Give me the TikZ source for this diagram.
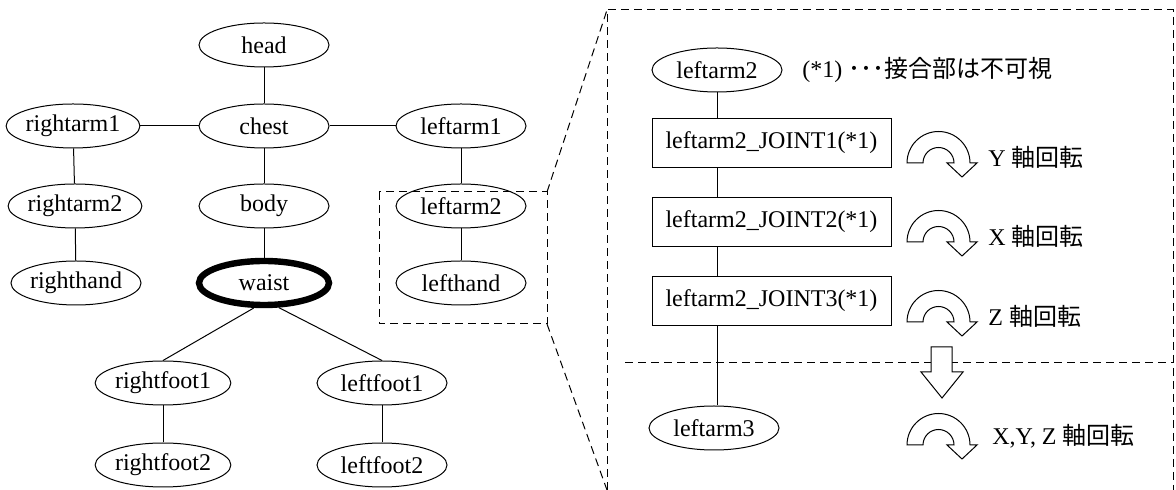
\documentclass[tikz,border=0pt]{standalone}
\usepackage{fontspec}
\setmainfont{Liberation Serif}
\newfontfamily\cjk{Noto Sans CJK JP}
\usetikzlibrary{shapes.geometric}
\tikzset{
  rotarrow/.pic={
    \draw[line width=0.5pt, fill=white, line join=miter]
      (-31.5,0) arc[start angle=180, end angle=0, radius=15.75pt]
      -- (38.5,0) -- (23.5,14) -- (8.5,0) -- (15.5,0)
      arc[start angle=0, end angle=180, radius=7.75pt] -- cycle;
  }
}
\begin{document}
\begin{tikzpicture}[x=0.5pt, y=-0.5pt,
  font=\fontsize{12}{14}\selectfont,
  ell/.style={draw, ellipse, minimum width=65pt, minimum height=22pt, inner sep=0pt, line width=0.5pt},
  jbox/.style={draw, rectangle, minimum width=119.5pt, minimum height=24.5pt, inner sep=0pt, line width=0.5pt},
  conn/.style={line width=0.5pt},
  dsh/.style={line width=0.5pt, dash pattern=on 4pt off 2.5pt},
  lbl/.style={anchor=west, inner sep=0pt}
]
\useasboundingbox (0,0) rectangle (1176,490);

% ---------- left tree ----------
\node[ell] (head) at (264,45) {head};
\node[ell] (chest) at (264,126) {chest};
\node[ell] (ra1) at (73,126) {rightarm1};
\node[ell] (la1) at (461,126) {leftarm1};
\node[ell] (body) at (264,206) {body};
\node[ell] (ra2) at (75,206) {rightarm2};
\node[ell] (la2) at (461,206) {leftarm2};
\node[ell, line width=3.2pt] (waist) at (264,283) {waist};
\node[ell] (rh) at (76,283) {righthand};
\node[ell] (lh) at (461,283) {lefthand};
\node[ell] (rf1) at (163,383) {rightfoot1};
\node[ell] (lf1) at (382,383) {leftfoot1};
\node[ell] (rf2) at (163,465) {rightfoot2};
\node[ell] (lf2) at (382,465) {leftfoot2};

\draw[conn] (head) -- (chest);
\draw[conn] (chest) -- (ra1);
\draw[conn] (chest) -- (la1);
\draw[conn] (chest) -- (body);
\draw[conn] (body) -- (waist);
\draw[conn] (ra1) -- (ra2);
\draw[conn] (ra2) -- (rh);
\draw[conn] (la1) -- (la2);
\draw[conn] (la2) -- (lh);
\draw[conn] (waist.-112) -- (rf1.north);
\draw[conn] (waist.-59) -- (lf1.north);
\draw[conn] (rf1) -- (rf2);
\draw[conn] (lf1) -- (lf2);

% ---------- zoom frames ----------
\coordinate (sbtl) at (379,192);
\coordinate (sbbr) at (547,324);
\coordinate (pbl) at (607,490);
\coordinate (ptl) at (607,10);
\coordinate (ptr) at (1173,10);
\coordinate (pbr) at (1173,490);
\draw[dsh] (sbtl) rectangle (sbbr);
\draw[dsh] (sbtl -| sbbr) -- (ptl);
\draw[dsh] (sbbr) -- (pbl);
\draw[dsh] (pbl) -- (ptl) -- (ptr) -- (pbr);
\coordinate (hl) at (625,363);
\draw[dsh] (hl) -- (hl -| pbr);

% ---------- right panel ----------
\node[ell] (la2r) at (717,70) {leftarm2};
\node[lbl] (note) at (802,70) {(*1) {\cjk ･･･接合部は不可視}};
\node[jbox] (j1) at (771.5,143) {leftarm2\_JOINT1(*1)};
\node[jbox] (j2) at (771.5,222) {leftarm2\_JOINT2(*1)};
\node[jbox] (j3) at (771.5,301) {leftarm2\_JOINT3(*1)};
\node[ell] (la3) at (714,428) {leftarm3};

\draw[conn] (la2r.south) -- (la2r.south |- j1.north);
\draw[conn] (la2r.south |- j1.south) -- (la2r.south |- j2.north);
\draw[conn] (la2r.south |- j2.south) -- (la2r.south |- j3.north);
\draw[conn] (la2r.south |- j3.south) -- (la2r.south |- la3.north);

\pic at (938.5,163) {rotarrow};
\pic at (938.5,242) {rotarrow};
\pic at (938.5,322) {rotarrow};
\pic at (938.5,445) {rotarrow};

\node[lbl] (ty) at (988,157) {Y {\cjk 軸回転}};
\node[lbl] (tx) at (988,236) {X {\cjk 軸回転}};
\node[lbl] (tz) at (988,316) {Z {\cjk 軸回転}};
\node[lbl] (txyz) at (992,436) {X,Y, Z {\cjk 軸回転}};

\draw[line width=0.5pt, fill=white, line join=miter]
  (931,347) -- (952,347) -- (952,372) -- (963,372) -- (942,398)
  -- (921,372) -- (931,372) -- cycle;
\end{tikzpicture}
\end{document}
